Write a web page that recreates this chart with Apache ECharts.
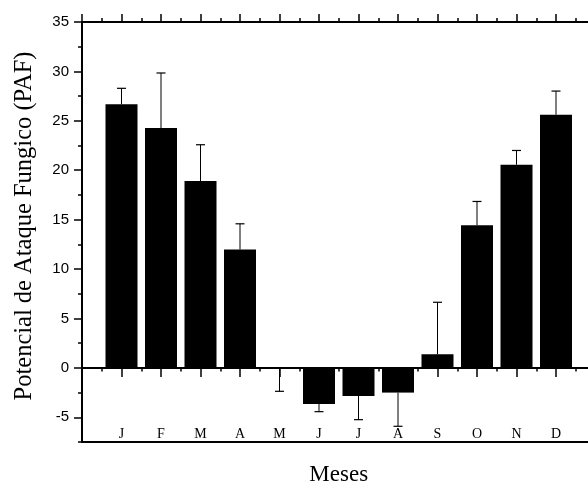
<!DOCTYPE html>
<html>
<head>
<meta charset="utf-8">
<script src="https://cdn.jsdelivr.net/npm/echarts@6/dist/echarts.min.js"></script>
<style>
html,body{margin:0;padding:0;background:#fff;}
#chart{width:588px;height:484px;}
</style>
</head>
<body>
<div id="chart"></div>
<script>
// Data
const months = ['J','F','M','A','M','J','J','A','S','O','N','D'];
const values = [26.67, 24.27, 18.9, 11.98, 0, -3.65, -2.84, -2.5, 1.38, 14.44, 20.56, 25.62];
const errorEnds = [28.29, 29.84, 22.58, 14.58, -2.37, -4.43, -5.24, -5.91, 6.64, 16.84, 22.0, 28.01];
const yLabelValues = [-5, 0, 5, 10, 15, 20, 25, 30, 35];

const yMin = -7.5, yMax = 35;
const L = 82, T = 22, W = 513.5, H = 420;

const barData = values.map((v, i) => [i + 1, v]);
const errData = values.map((v, i) => [i + 1, v, errorEnds[i]]);

const black = '#000';
const chart = echarts.init(document.getElementById('chart'), null, {renderer: 'canvas'});

const hiddenAxisBits = {
  axisLine: {show: false}, axisTick: {show: false}, axisLabel: {show: false}, splitLine: {show: false}
};

chart.setOption({
  backgroundColor: '#fff',
  animation: false,
  grid: [
    {left: L, top: T, width: W, height: H, outerBoundsMode: 'none', containLabel: false},
    {left: L, top: T, width: W, height: H * (yMax - 0) / (yMax - yMin), outerBoundsMode: 'none', containLabel: false},
    {left: L, top: T, width: W, height: H * (yMax + 5) / (yMax - yMin), outerBoundsMode: 'none', containLabel: false}
  ],
  xAxis: [
    { // bottom axis with month labels
      type: 'value', gridIndex: 0, position: 'bottom', min: 0, max: 13, interval: 1,
      axisLine: {show: true, onZero: false, lineStyle: {color: black, width: 2}},
      axisTick: {show: false},
      splitLine: {show: false},
      axisLabel: {
        inside: true, margin: 1, color: black, fontFamily: 'Liberation Serif', fontSize: 14,
        formatter: v => (v >= 1 && v <= 12) ? months[v - 1] : ''
      },
      name: 'Meses', nameLocation: 'middle', nameGap: 21,
      nameTextStyle: {fontFamily: 'Liberation Serif', fontSize: 23, color: black}
    },
    { // top axis
      type: 'value', gridIndex: 0, position: 'top', min: 0, max: 13, interval: 1,
      axisLine: {show: true, onZero: false, lineStyle: {color: black, width: 2}},
      axisTick: {show: true, inside: false, length: 8, lineStyle: {color: black, width: 1.5}},
      minorTick: {show: true, splitNumber: 2, length: 4, lineStyle: {color: black, width: 1.5}},
      axisLabel: {show: false}, splitLine: {show: false}, minorSplitLine: {show: false}
    },
    { // zero line axis
      type: 'value', gridIndex: 1, position: 'bottom', min: 0, max: 13, interval: 1,
      axisLine: {show: true, onZero: false, lineStyle: {color: black, width: 2}},
      axisTick: {show: true, inside: false, length: 9, lineStyle: {color: black, width: 1.5}},
      minorTick: {show: true, splitNumber: 2, length: 3.5, lineStyle: {color: black, width: 1.5}},
      axisLabel: {show: false}, splitLine: {show: false}, minorSplitLine: {show: false}
    },
    Object.assign({type: 'value', gridIndex: 2, min: 0, max: 13}, hiddenAxisBits)
  ],
  yAxis: [
    {
      type: 'value', gridIndex: 0, position: 'left', min: yMin, max: yMax, interval: 2.5,
      axisLine: {show: true, onZero: false, lineStyle: {color: black, width: 2}},
      axisTick: {show: true, inside: false, length: 4, lineStyle: {color: black, width: 1.5}},
      splitLine: {show: false},
      axisLabel: {
        margin: 13, color: black, fontFamily: 'Liberation Sans', fontSize: 15,
        formatter: v => yLabelValues.some(t => Math.abs(t - v) < 1e-9) ? String(v) : ''
      },
      name: 'Potencial de Ataque Fungico (PAF)', nameLocation: 'middle', nameGap: 45, nameRotate: 90,
      nameTextStyle: {fontFamily: 'Liberation Serif', fontSize: 24.5, color: black, padding: [0, 0, 0, 12]}
    },
    Object.assign({type: 'value', gridIndex: 1, min: 0, max: yMax}, hiddenAxisBits),
    {
      type: 'value', gridIndex: 2, position: 'left', min: -5, max: yMax, interval: 5,
      axisLine: {show: true, onZero: false, lineStyle: {color: black, width: 2}},
      axisTick: {show: true, inside: false, length: 8, lineStyle: {color: black, width: 1.5}},
      axisLabel: {show: false}, splitLine: {show: false}
    }
  ],
  series: [
    {
      type: 'bar', xAxisIndex: 0, yAxisIndex: 0, data: barData, barWidth: 32,
      itemStyle: {color: '#000', borderWidth: 0}
    },
    {
      type: 'custom', xAxisIndex: 0, yAxisIndex: 0, data: errData, z: 3,
      encode: {x: 0, y: [1, 2]},
      renderItem: function (params, api) {
        const x = api.value(0), v = api.value(1), e = api.value(2);
        const p0 = api.coord([x, v]);
        const p1 = api.coord([x, e]);
        const hw = 4.5;
        return {
          type: 'group',
          children: [
            {type: 'line', shape: {x1: p0[0], y1: p0[1], x2: p1[0], y2: p1[1]}, style: {stroke: black, lineWidth: 1}},
            {type: 'line', shape: {x1: p1[0] - hw, y1: p1[1], x2: p1[0] + hw, y2: p1[1]}, style: {stroke: black, lineWidth: 1.2}}
          ]
        };
      }
    }
  ]
});
</script>
</body>
</html>
